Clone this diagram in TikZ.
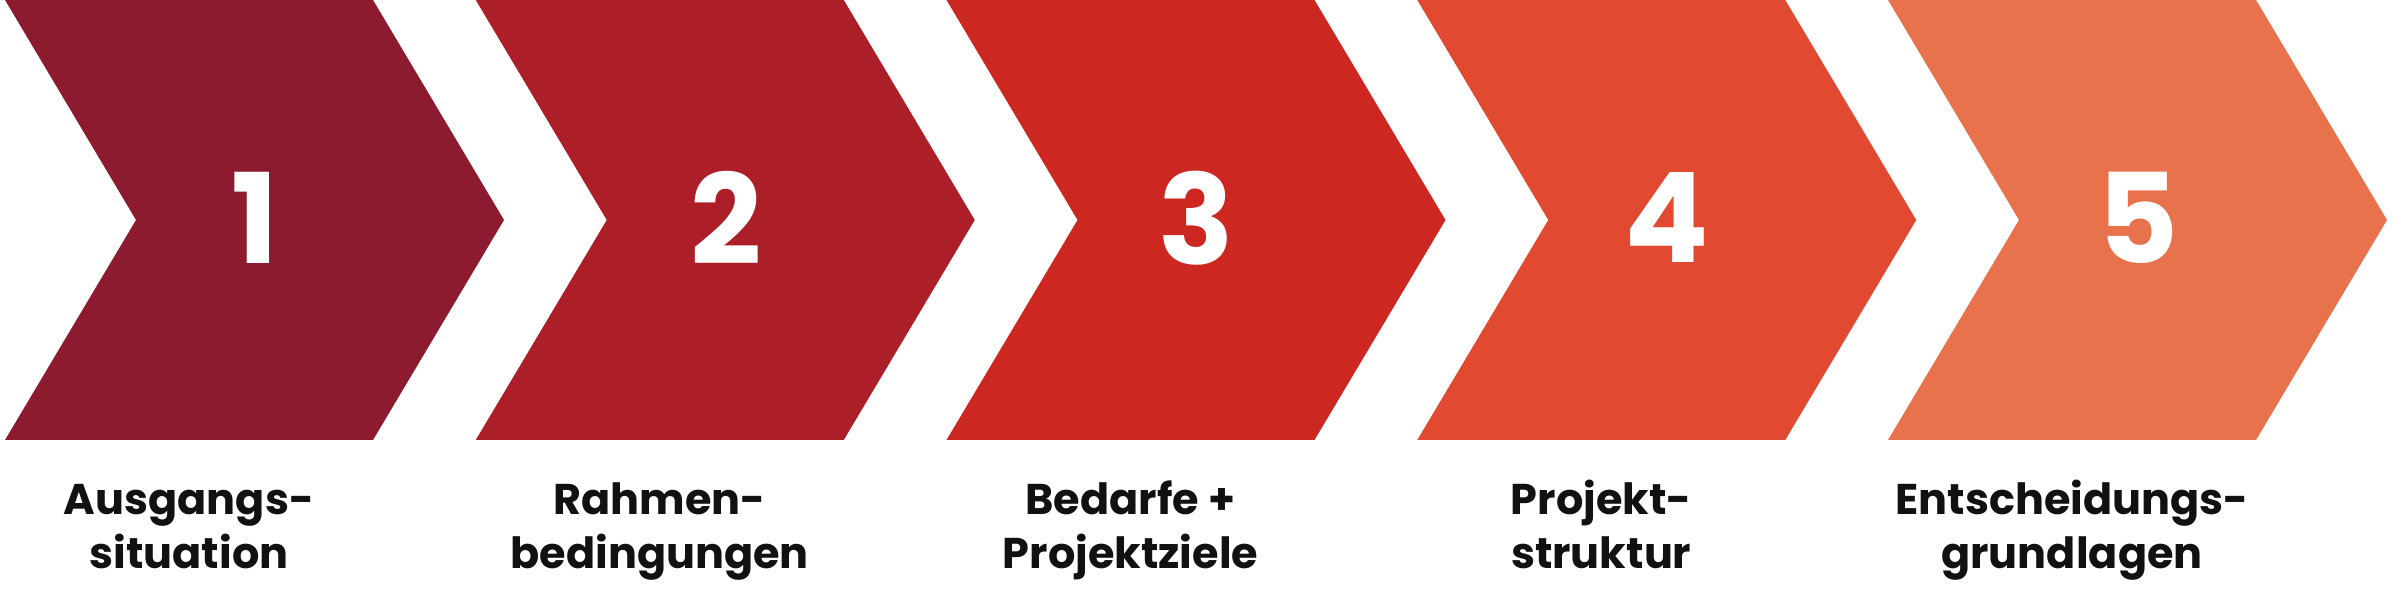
\documentclass[tikz,border=0pt]{standalone}
\usepackage{fontspec}
\setmainfont{Poppins}[BoldFont=* Bold]
\definecolor{c1}{HTML}{8C1B2F}
\definecolor{c2}{HTML}{AD1F28}
\definecolor{c3}{HTML}{CD2722}
\definecolor{c4}{HTML}{E14A30}
\definecolor{c5}{HTML}{E8724C}
\definecolor{txt}{HTML}{111111}
\tikzset{
  digit/.style={text=white, inner sep=0pt, font=\fontsize{125}{125}\selectfont\bfseries},
  caption/.style={text=txt, inner sep=0pt, align=center, anchor=base,
    font=\fontsize{43}{54}\selectfont\bfseries}
}
\begin{document}
\begin{tikzpicture}[x=1pt,y=1pt]
\useasboundingbox (0,0) rectangle (2401,599);
\foreach \i/\col/\num/\lab in {0/c1/1/{Ausgangs-\\situation},1/c2/2/{Rahmen-\\bedingungen},2/c3/3/{Bedarfe +\\Projektziele},3/c4/4/{Projekt-\\struktur},4/c5/5/{Entscheidungs-\\grundlagen}}{
  \pgfmathsetmacro{\L}{5+470.75*\i}
  \fill[\col] (\L,599) -- ({\L+368},599) -- ({\L+499},379) -- ({\L+368},159) -- (\L,159) -- ({\L+131},379) -- cycle;
  \node[digit] (d\num) at ({\L+250},381) {\num};
  \node[caption] (t\num) at ({\L+184},30) {\lab};
}
\end{tikzpicture}
\end{document}
